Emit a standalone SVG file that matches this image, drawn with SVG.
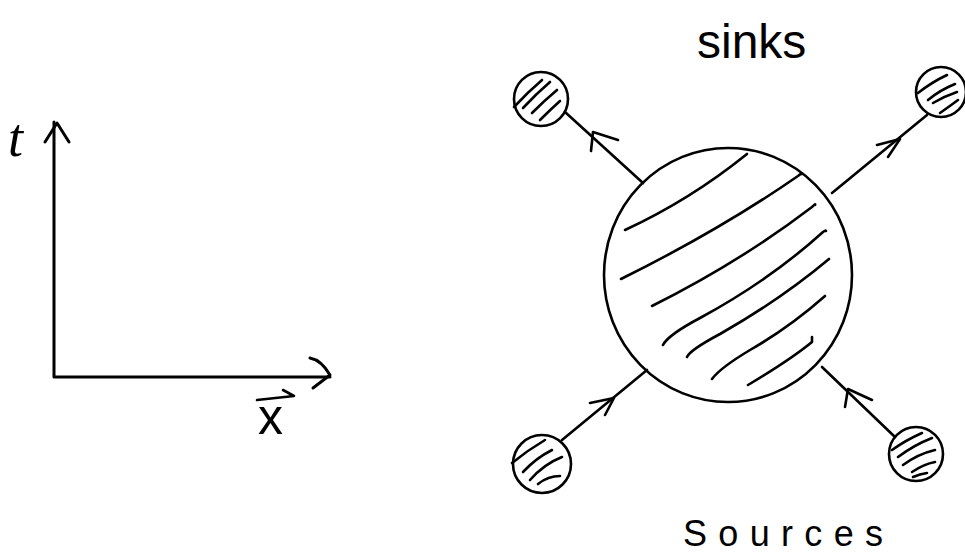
<svg xmlns="http://www.w3.org/2000/svg" width="965" height="559" viewBox="0 0 965 559">
<style>
.ink{fill:none;stroke:#000;stroke-width:3;stroke-linecap:round;stroke-linejoin:round}
.thin{fill:none;stroke:#000;stroke-width:2.6;stroke-linecap:round;stroke-linejoin:round}
.hand{font-family:"Liberation Sans",Arial,sans-serif;fill:#000}
</style>
<rect width="965" height="559" fill="#fff"/>
<g id="axes">
<path class="ink" d="M54,122 L54,377 L330,377"/>
<path class="ink" d="M45,142 L57,123 L69,142"/>
<path class="ink" d="M310,358 C320,360 326,368 330,375 L313,388"/>
<text class="hand" x="8" y="156" font-size="54" style="font-family:'Liberation Serif',serif;font-style:italic">t</text>
<text class="hand" x="258" y="434" font-size="50">x</text>
<path class="thin" d="M257,400 L294,396 M283,390 L294,396"/>
</g>
<g id="big-circle">
<ellipse class="thin" cx="728" cy="275" rx="124" ry="127"/>
<path class="thin" d="M625,230 Q690,200 747,154"/>
<path class="thin" d="M621,279 Q720,230 798,176 Q803,172 802,174"/>
<path class="thin" d="M652,306 Q740,262 812,207 Q816,203 815,205"/>
<path class="thin" d="M663,345 Q668,335 700,318 Q770,280 823,232 Q826,230 826,231"/>
<path class="thin" d="M687,357 Q690,350 720,334 Q780,300 829,259"/>
<path class="thin" d="M712,379 Q720,368 750,350 Q790,327 825,296"/>
<path class="thin" d="M748,385 Q790,360 812,342 L812,337"/>
</g>
<g id="sink-top-left">
<circle class="thin" cx="541" cy="99" r="27"/>
<path class="thin" d="M514,107 Q528,92 542,80 M523,108 Q536,94 550,82 M532,113 Q545,100 557,90 M540,120 Q550,110 560,101"/>
</g>
<g id="sink-top-right">
<circle class="thin" cx="941" cy="92" r="25"/>
<path class="thin" d="M918,93 Q932,82 947,75 M928,100 Q940,90 955,84 M933,103 Q945,96 957,92 M940,113 Q950,106 958,100"/>
</g>
<g id="source-bottom-left">
<circle class="thin" cx="542" cy="464" r="29"/>
<path class="thin" d="M512,463 Q528,450 545,440 M523,472 Q536,458 552,450 M530,480 Q544,464 562,457 M538,484 Q548,476 560,476"/>
</g>
<g id="source-bottom-right">
<circle class="thin" cx="916" cy="454" r="27"/>
<path class="thin" d="M892,450 Q906,440 922,433 M898,457 Q914,445 932,438 M903,465 Q918,454 935,450 M912,472 Q924,464 935,462 M913,477 Q920,474 927,473"/>
</g>
<g id="connectors">
<path class="thin" d="M565,112 L643,183"/>
<path class="thin" d="M591,151 L593,132 L618,140"/>
<path class="thin" d="M927,115 L832,193"/>
<path class="thin" d="M877,145 L900,139 L888,157"/>
<path class="thin" d="M562,440 L647,370"/>
<path class="thin" d="M590,403 L614,398 L605,415"/>
<path class="thin" d="M895,437 L822,367"/>
<path class="thin" d="M845,407 L848,389 L872,400"/>
</g>
<g id="labels">
<text class="hand" x="697" y="58" font-size="48">sinks</text>
<text class="hand" x="683" y="546" font-size="36" textLength="200" lengthAdjust="spacing">Sources</text>
</g>
</svg>
